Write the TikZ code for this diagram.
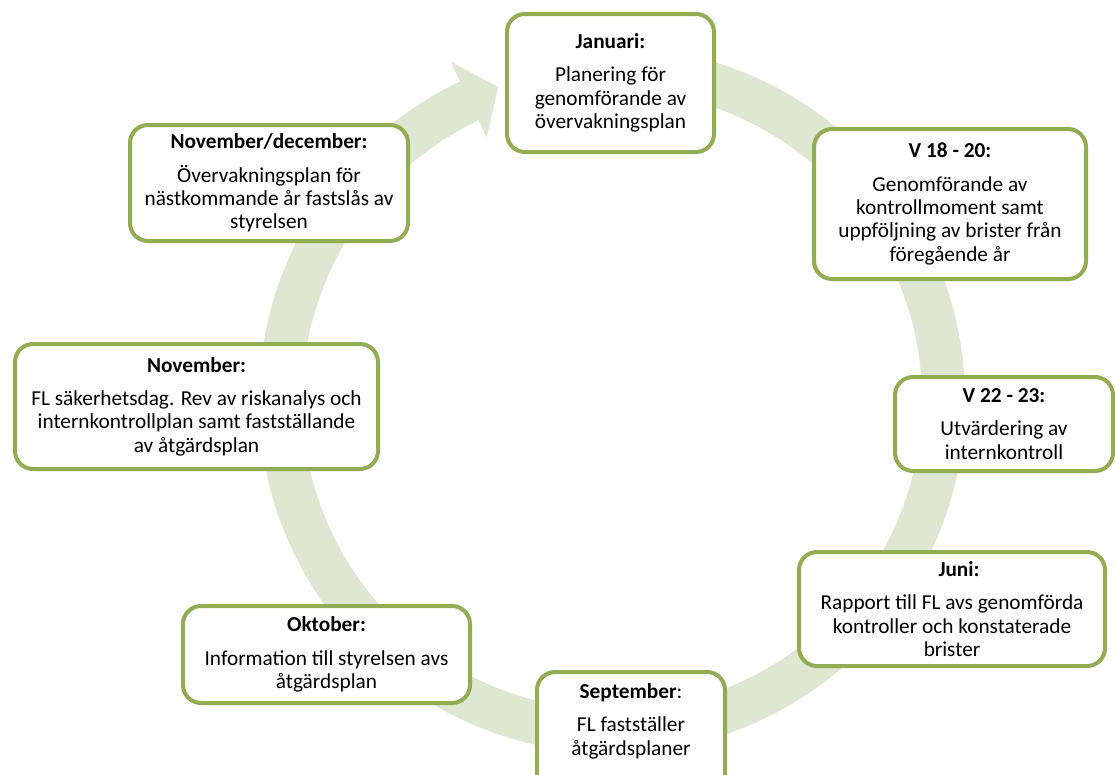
\documentclass[tikz,border=0pt]{standalone}
\usepackage{fontspec}
\setmainfont{Carlito}
\usetikzlibrary{positioning}
\definecolor{ramgron}{RGB}{145,172,82}
\definecolor{ringgron}{RGB}{221,231,209}
\tikzset{
  ruta/.style={draw=ramgron, line width=4pt, fill=white, rounded corners=18pt,
    align=center, font=\fontsize{21.3}{23.4}\selectfont},
  rutatext/.style={align=center, font=\fontsize{21.3}{23.4}\selectfont}
}
\newcommand{\rubrik}[1]{\textbf{#1}\\[10pt]}

\begin{document}
\begin{tikzpicture}[x=1pt,y=1pt]
\useasboundingbox (0,0) rectangle (1115,-774);
% cirkelpil i bakgrunden
\fill[ringgron, shift={(612,-400)}] (90:353) arc[start angle=90, end angle=-244.5, radius=353]
  -- (115.5:375) -- (110:333) -- (115.5:291) -- (115.5:310)
  arc[start angle=-244.5, end angle=90, radius=310] -- cycle;
% rutor
\node[ruta, minimum width=207pt, minimum height=138pt] (jan) at (610.5,-83)
  {\rubrik{Januari:}Planering för\\genomförande av\\övervakningsplan};
\node[ruta, minimum width=272pt, minimum height=150pt] (v18) at (950,-204)
  {\rubrik{V 18 - 20:}Genomförande av\\kontrollmoment samt\\uppföljning av brister från\\föregående år};
\node[ruta, minimum width=218pt, minimum height=94pt] (v22) at (1004,-424)
  {\rubrik{V 22 - 23:}Utvärdering av\\internkontroll};
\node[ruta, minimum width=306pt, minimum height=114pt] (juni) at (952,-609)
  {\rubrik{\hspace*{14pt}Juni:}Rapport till FL avs genomförda\\kontroller och konstaterade\\brister};
\node[ruta, minimum width=188pt, minimum height=138pt, anchor=north] (sep) at (631,-670) {};
\node[rutatext, anchor=north] (septext) at ([yshift=-10pt]sep.north)
  {\textbf{September}:\\[10pt]FL fastställer\\åtgärdsplaner};
\node[ruta, minimum width=287pt, minimum height=97pt] (okt) at (326.5,-654.5)
  {\rubrik{Oktober:}Information till styrelsen avs\\åtgärdsplan};
\node[ruta, minimum width=363pt, minimum height=125pt] (nov) at (196.5,-406.5)
  {\rubrik{November:}FL säkerhetsdag. Rev av riskanalys och\\internkontrollplan samt fastställande\\av åtgärdsplan};
\node[ruta, minimum width=278pt, minimum height=116pt] (novdec) at (269,-183)
  {\rubrik{November/december:}Övervakningsplan för\\nästkommande år fastslås av\\styrelsen};
\end{tikzpicture}
\end{document}
